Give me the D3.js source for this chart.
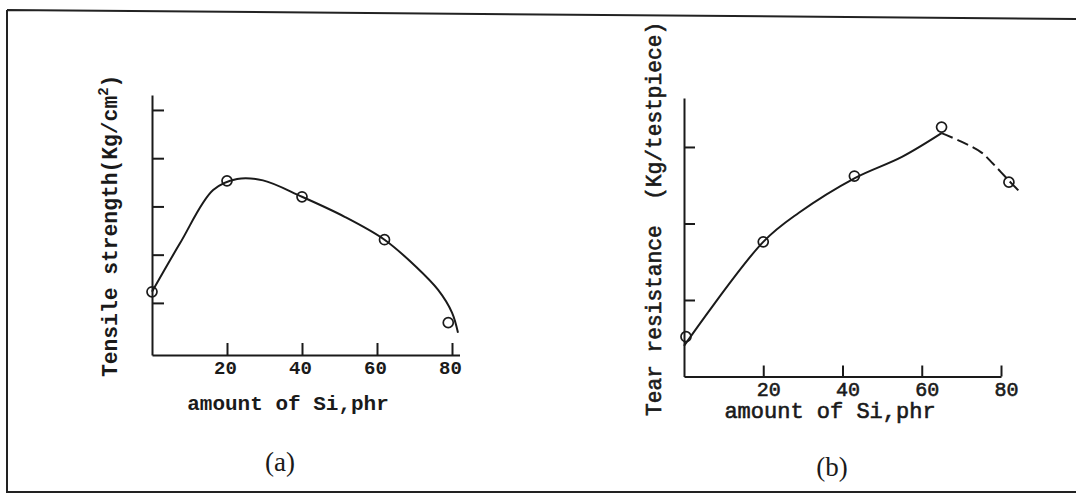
<!DOCTYPE html>
<html>
<head>
<meta charset="utf-8">
<script src="https://cdn.jsdelivr.net/npm/d3@7"></script>
<style>
  body { margin: 0; background: #fff; }
  svg { display: block; }
  .mono { font-family: "Liberation Mono", "Courier New", monospace; fill: #1a1a1a; }
  .serif { font-family: "Liberation Serif", "Times New Roman", serif; fill: #1a1a1a; }
</style>
</head>
<body>
<svg id="chart"></svg>
<script>
// Tick labels on both x axes (amount of Si, phr)
const xTicks = [20, 40, 60, 80];

// (a) Tensile strength - measured points (y in tick steps, axis is unlabelled)
const tensileX = [0, 20, 40, 62, 79];
const tensileY = [1.23, 3.53, 3.20, 2.31, 0.59];
const tensileTicks = [1, 2, 3, 4, 5];
// hand drawn fitted curve
const tensileFitX = [0, 7.5, 16.3, 22.7, 29.6, 40, 51.5, 62, 70.4, 76.3, 80, 81.6];
const tensileFitY = [1.23, 2.24, 3.34, 3.57, 3.54, 3.20, 2.78, 2.31, 1.75, 1.27, 0.80, 0.38];

// (b) Tear resistance - measured points
const tearX = [0.5, 20, 43, 65, 82];
const tearY = [0.52, 1.76, 2.62, 3.26, 2.54];
const tearTicks = [1, 2, 3];
// fitted curve: solid part, then the broken part after the maximum
const tearFitX = [0, 20, 29, 43, 55, 65];
const tearFitY = [0.40, 1.76, 2.14, 2.59, 2.87, 3.18];
const tearDashX = [65, 70, 75, 78, 82, 85];
const tearDashY = [3.18, 3.07, 2.93, 2.78, 2.56, 2.40];

const W = 1076, H = 494;
const ink = "#1a1a1a";

const svg = d3.select("#chart").attr("width", W).attr("height", H);

// outer frame of the scanned page (slightly skewed)
svg.append("path")
  .attr("d", `M7,10 L${W},19 M7,10 L7,492 L${W},492`)
  .attr("fill", "none")
  .attr("stroke", "#222")
  .attr("stroke-width", 2);

const pairs = (xs, ys) => xs.map((x, i) => [x, ys[i]]);

function styleText(sel, p, size) {
  sel.attr("class", "mono")
    .style("font-size", size + "px")
    .style("font-weight", p.weight)
    .attr("stroke", p.textStroke ? ink : null)
    .attr("stroke-width", p.textStroke || null);
}

function drawPanel(p) {
  const g = svg.append("g");

  // y axis, ticks pointing in, no labels
  g.append("g")
    .attr("transform", `translate(${p.x(0)},0)`)
    .call(d3.axisLeft(p.y).tickValues(p.yTicks).tickSizeInner(-p.tickLen).tickSizeOuter(0).tickFormat(""));

  // x axis
  const xa = g.append("g")
    .attr("transform", `translate(0,${p.y.range()[0]})`)
    .call(d3.axisBottom(p.x).tickValues(xTicks).tickSizeInner(-p.tickLen).tickSizeOuter(0).tickPadding(p.tickPad));
  xa.selectAll("text").call(styleText, p, p.tickFont).attr("dx", p.labelDx);

  g.selectAll(".domain, .tick line")
    .attr("stroke", ink)
    .attr("stroke-width", 2);

  const line = d3.line()
    .x(d => p.x(d[0]))
    .y(d => p.y(d[1]))
    .curve(d3.curveCatmullRom.alpha(0.5));

  g.append("path")
    .attr("d", line(p.fit))
    .attr("fill", "none")
    .attr("stroke", ink)
    .attr("stroke-width", 2);

  if (p.dash) {
    g.append("path")
      .attr("d", line(p.dash))
      .attr("fill", "none")
      .attr("stroke", ink)
      .attr("stroke-width", 2)
      .attr("stroke-dasharray", "12,5");
  }

  g.selectAll("circle.pt")
    .data(p.points)
    .join("circle")
    .attr("class", "pt")
    .attr("cx", d => p.x(d[0]))
    .attr("cy", d => p.y(d[1]))
    .attr("r", 5)
    .attr("fill", "none")
    .attr("stroke", ink)
    .attr("stroke-width", 1.7);

  // axis titles
  g.append("text")
    .call(styleText, p, p.titleFont)
    .attr("x", p.xTitle[0]).attr("y", p.xTitle[1])
    .attr("text-anchor", "middle")
    .text("amount of Si,phr");

  const yt = g.append("text")
    .call(styleText, p, p.yTitleFont)
    .attr("transform", `translate(${p.yTitle[0]},${p.yTitle[1]}) rotate(-90)`)
    .style("white-space", "pre");
  p.yTitleText(yt);

  g.append("text")
    .attr("class", "serif")
    .attr("x", p.caption[0]).attr("y", p.caption[1])
    .attr("text-anchor", "middle")
    .style("font-size", "27px")
    .text(p.captionText);
}

// (a) Tensile strength
drawPanel({
  x: d3.scaleLinear().domain([0, 82]).range([152, 459.5]),
  y: d3.scaleLinear().domain([-0.08, 5.31]).range([355, 95]),
  yTicks: tensileTicks,
  tickLen: 12,
  tickPad: 6,
  labelDx: -2,
  tickFont: 19,
  titleFont: 21,
  yTitleFont: 21.3,
  weight: "bold",
  fit: pairs(tensileFitX, tensileFitY),
  points: pairs(tensileX, tensileY),
  xTitle: [288, 410],
  yTitle: [117, 377],
  yTitleText: t => {
    t.append("tspan").text("Tensile strength(Kg/cm");
    t.append("tspan").attr("dy", -9).style("font-size", "14px").text("2");
    t.append("tspan").attr("dy", 9).text(")");
  },
  caption: [280, 471],
  captionText: "(a)"
});

// (b) Tear resistance
drawPanel({
  x: d3.scaleLinear().domain([0, 80]).range([684, 1001]),
  y: d3.scaleLinear().domain([0, 3.64]).range([376.5, 98]),
  yTicks: tearTicks,
  tickLen: 11,
  tickPad: 5,
  labelDx: 5,
  tickFont: 20,
  titleFont: 22,
  yTitleFont: 21.2,
  weight: "normal",
  textStroke: 0.6,
  fit: pairs(tearFitX, tearFitY),
  dash: pairs(tearDashX, tearDashY),
  points: pairs(tearX, tearY),
  xTitle: [830, 418],
  yTitle: [661, 416],
  yTitleText: t => t.text("Tear resistance  (Kg/testpiece)"),
  caption: [832, 476],
  captionText: "(b)"
});
</script>
</body>
</html>
